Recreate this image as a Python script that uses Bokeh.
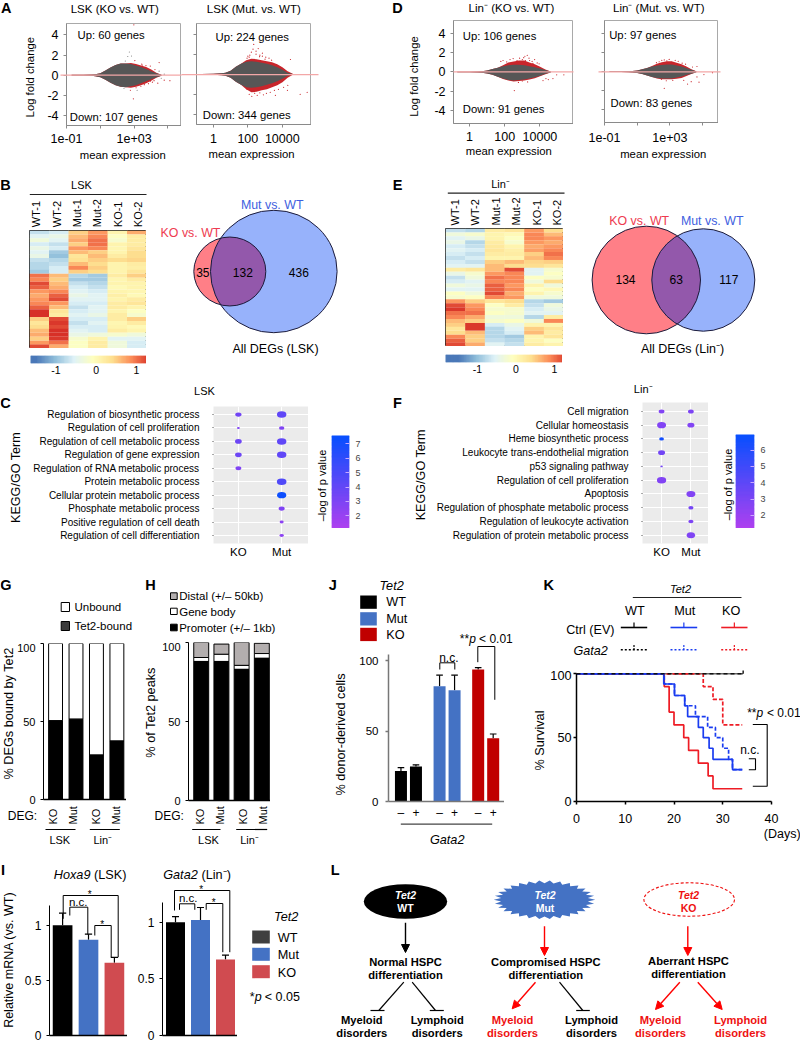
import numpy as np
from bokeh.plotting import figure
from bokeh.models import Range1d, FixedTicker, LinearColorMapper, Arrow, NormalHead, ColumnDataSource
from bokeh.core.properties import value
from bokeh.transform import transform
from bokeh.embed import file_html
from bokeh.resources import INLINE

FONT = "Liberation Sans"
MINUS_SUP = "\u207b"
# ---------- DATA ----------
MA_MEAN = [0.2, 1, 3, 5, 10, 20, 40, 80, 160, 320, 640, 1280, 2560, 5120, 10240, 20480, 40960]
A1_UP = [.03, .04, .07, .1, .2, .45, .75, 1.0, 1.15, 1.15, 1.1, .95, .8, .6, .4, .2, .05]
A1_DN = [-.03, -.04, -.07, -.1, -.2, -.45, -.75, -1.0, -1.15, -1.2, -1.1, -1.0, -.8, -.6, -.4, -.2, -.05]
A1_RU = [.03, .04, .07, .1, .2, .45, .75, 1.0, 1.15, 1.15, 1.2, 1.1, .95, .8, .55, .25, .05]
A1_RD = [-.03, -.04, -.07, -.1, -.2, -.45, -.75, -1.0, -1.15, -1.2, -1.25, -1.15, -1.0, -.8, -.55, -.25, -.05]
A1_RX = [960, 1100, 2800, 5000, 9000, 17000, 30000, 12000, 25000, 60000, 130000, 600, 1300, 2500, 4000, 7000, 9000, 15000, 3000, 900]
A1_RY = [5.0, 1.45, 1.1, .95, .9, .55, 1.25, -.7, -.8, -.5, -.55, -1.5, -1.25, -1.1, -.95, -.85, -.6, -.55, 1.0, -2.35]
A1_GX = [520, 420, 700, 30000, 40000, 300, 250, 1500, 60000]
A1_GY = [2.3, 1.85, 1.9, .4, -.3, 1.4, -1.3, -1.5, .1]

A2_UP = [.03, .05, .1, .15, .35, .75, 1.05, 1.25, 1.3, 1.25, 1.15, 1.05, .9, .7, .45, .15, .03]
A2_DN = [-.03, -.05, -.1, -.15, -.35, -.75, -1.05, -1.3, -1.35, -1.3, -1.2, -1.05, -.9, -.7, -.45, -.15, -.03]
A2_RU = [.03, .05, .1, .15, .35, .75, 1.05, 1.4, 1.55, 1.5, 1.4, 1.3, 1.2, 1.0, .7, .3, .05]
A2_RD = [-.03, -.05, -.1, -.15, -.35, -.75, -1.05, -1.5, -1.8, -1.75, -1.6, -1.5, -1.3, -1.1, -.8, -.35, -.05]
A2_RX = [220, 160, 130, 100, 90, 300, 400, 500, 700, 1100, 1700, 90, 120, 170, 250, 350, 500, 800, 1200, 2000, 3500, 6000, 12000, 20000, 120, 200, 300, 480, 700, 1000, 2400, 30000, 110000, 280000, 21000, 4000]
A2_RY = [2.97, 2.2, 1.9, 1.8, 1.6, 2.3, 2.55, 1.9, 1.8, 1.7, 1.6, -1.5, -2.0, -2.2, -1.9, -2.1, -1.85, -2.05, -1.9, -1.8, -1.6, -1.5, -1.3, -1.6, 1.7, 2.5, 2.0, 1.75, 2.1, 1.5, 1.4, 1.47, -2.0, -1.8, -1.1, -2.1]
D1_UP = [.02, .03, .05, .08, .15, .3, .45, .6, .7, .75, .75, .7, .6, .5, .35, .2, .05]
D1_DN = [-.02, -.03, -.05, -.08, -.15, -.3, -.5, -.7, -.85, -.9, -.85, -.8, -.7, -.55, -.4, -.2, -.05]
D1_RU = [.02, .03, .05, .08, .15, .3, .45, .7, 1.0, 1.1, 1.2, 1.2, 1.0, .8, .55, .25, .05]
D1_RD = [-.02, -.03, -.05, -.08, -.15, -.3, -.5, -.75, -.9, -1.0, -.95, -.9, -.8, -.65, -.45, -.25, -.05]
D1_RX = [60, 80, 130, 200, 300, 500, 700, 1000, 1400, 1900, 2600, 3600, 5000, 7000, 1200, 1500, 2400, 4000, 9000, 15000, 22000, 55000, 90000, 230000, 600, 1000, 2000, 350, 30000]
D1_RY = [1.1, 1.2, 1.05, 1.3, 1.4, 1.2, 1.45, 1.3, 1.65, 1.75, 1.2, 1.1, 1.3, .95, 1.5, 1.2, 1.45, .9, .85, -.9, -.7, -.7, -.3, -.3, -1.1, -.95, -1.05, -1.95, -.8]
D2_UP = [.02, .03, .05, .07, .12, .25, .4, .55, .65, .7, .75, .75, .65, .55, .4, .2, .05]
D2_DN = [-.02, -.03, -.05, -.07, -.12, -.25, -.4, -.55, -.65, -.7, -.7, -.7, -.6, -.5, -.35, -.2, -.05]
D2_RU = [.02, .03, .05, .07, .12, .25, .4, .6, .85, 1.0, 1.1, 1.1, .95, .8, .55, .25, .05]
D2_RD = [-.02, -.03, -.05, -.07, -.12, -.25, -.4, -.55, -.7, -.78, -.8, -.8, -.75, -.65, -.45, -.25, -.05]
D2_RX = [150, 220, 320, 450, 650, 900, 1300, 2100, 3200, 5600, 9000, 24000, 45000, 120000, 400000, 60000, 45000, 20000, 450, 600, 300, 1500, 7000, 12000]
D2_RY = [.95, 1.05, 1.2, 1.25, 1.15, 1.3, 1.0, 1.2, 1.1, .9, .8, .5, .55, -.3, -.1, -1.1, -.55, -1.05, -1.75, -.95, -.8, -.9, -.9, -1.3]

HEAT_COLS = ["WT-1", "WT-2", "Mut-1", "Mut-2", "KO-1", "KO-2"]
HEAT_B = [
 [-.7,-.6,.5,.8,.1,.7],[-.5,-.4,.6,.9,-.1,.2],[-.3,-.5,.7,1.0,-.2,.2],[-.6,-.7,.5,1.0,.1,.2],
 [-.4,-.6,.8,.9,.05,.3],[-.5,-.9,.6,.5,.1,.4],[-.4,-1.0,.3,.6,.2,.4],[-.7,-.8,.35,.5,.4,.45],
 [-.8,-.7,.6,.4,.1,.2],[-.8,-.6,.9,.5,.1,.15],[-.9,-.6,.5,.4,.1,.3],
 [1.0,.6,-.8,-.9,.2,.5],[.9,.5,-.9,-.9,.05,.2],[1.2,.6,-.7,-.8,.1,.1],[1.1,.7,-.6,-.7,0,.1],
 [.8,.9,-.5,-.6,.1,.05],[.7,1.1,-.4,-.5,.15,0],[.8,1.2,-.5,-.5,.1,.2],[.9,.8,-.6,-.6,.2,.3],
 [1.1,.6,-.7,-.5,.2,.1],[1.4,.3,-.6,-.5,.1,-.1],[1.5,.2,-.5,-.4,.2,-.2],[.5,1.2,-.6,-.6,.2,.5],
 [.3,1.3,-.7,-.5,.05,.2],[.4,1.2,-.6,-.6,.1,0],[.6,1.4,-.5,-.6,.2,.1],[.7,1.5,-.4,-.3,-.2,-.3],
 [.5,1.3,-.2,.1,-.5,-.5],[.8,1.0,-.1,.2,-.3,-.6],[1.2,.7,-.1,.2,-.3,-.6]]
HEAT_E = [
 [-.7,-.8,.2,.3,.8,.4],[-.3,-.2,.1,.0,.9,.6],[-.5,-.4,.1,-.1,.9,.8],[-.4,-.8,.2,-.2,.8,.7],
 [-.6,-.7,.25,.1,.7,.8],[-.5,-.6,.3,.15,.75,.9],[-.6,-.7,.2,.2,.5,1.0],[-.7,-.6,.1,.1,.6,.9],
 [-.6,-.7,.5,.6,.45,.5],[-.5,-.5,.6,.4,.4,.3],
 [.2,.3,.6,1.2,-.5,-.2],[-.4,-.2,.8,.9,-.5,-.1],[-.7,-.3,1.0,.9,-.1,-.2],[-.6,-.5,.9,.9,-.3,.4],
 [-.3,-.4,1.1,.8,.1,-.3],[-.5,-.5,1.1,.9,-.1,0],[-.1,-.3,1.2,.7,.1,-.2],[-.2,-.1,.9,.8,-.3,-.3],
 [.8,.5,.3,.4,-.8,-.9],[1.2,.8,-.1,.2,-.7,-.3],[1.3,.9,-.2,-.2,-.6,-.4],[1.0,1.0,-.1,-.2,-.5,-.5],
 [.9,.7,-.3,-.3,-.8,.2],[.6,.5,-.2,-.1,-.3,.9],[.5,1.3,-.6,-.4,.1,.1],[.3,1.3,-.8,-.5,.5,.3],
 [.4,.6,-.8,-.6,.6,.2],[.9,.5,-.8,-.9,.1,.3],[1.1,.5,-.7,-.8,.1,-.1],[1.2,.7,-.5,-.7,.2,.1]]

VENN_B = {"ko": 35, "both": 132, "mut": 436}
VENN_E = {"ko": 134, "both": 63, "mut": 117}

C_TERMS = ["Regulation of biosynthetic process", "Regulation of cell proliferation", "Regulation of cell metabolic process",
           "Regulation of gene expression", "Regulation of RNA metabolic process", "Protein metabolic process",
           "Cellular protein metabolic process", "Phosphate metabolic process", "Positive regulation of cell death",
           "Regulation of cell differentiation"]
C_KO_ROW = [1, 2, 3, 4, 5]
C_KO_SIZE = [4.3, 2.0, 4.6, 4.6, 4.0]
C_KO_P = [3.5, 3.0, 3.7, 3.7, 3.0]
C_MUT_ROW = [1, 2, 3, 4, 6, 7, 8, 9, 10]
C_MUT_SIZE = [6.5, 3.7, 6.5, 6.5, 6.6, 6.3, 4.2, 2.8, 3.0]
C_MUT_P = [4.2, 3.0, 4.2, 4.2, 4.8, 7.3, 3.0, 2.5, 2.5]
F_TERMS = ["Cell migration", "Cellular homeostasis", "Heme biosynthetic process", "Leukocyte trans-endothelial migration",
           "p53 signaling pathway", "Regulation of cell proliferation", "Apoptosis", "Regulation of phosphate metabolic process",
           "Regulation of leukocyte activation", "Regulation of protein metabolic process"]
F_KO_ROW = [1, 2, 3, 4, 5, 6]
F_KO_SIZE = [4.0, 6.2, 3.3, 4.8, 1.7, 6.4]
F_KO_P = [2.8, 2.8, 6.6, 3.3, 3.2, 2.8]
F_MUT_ROW = [1, 2, 7, 8, 9, 10]
F_MUT_SIZE = [4.0, 4.8, 6.2, 3.6, 3.6, 5.8]
F_MUT_P = [3.0, 2.8, 2.8, 3.2, 3.0, 2.9]

DEG_LABELS = ["KO", "Mut", "KO", "Mut"]
G_BOUND = [50.5, 51.5, 28.5, 37.5]
G_TOTAL = [100, 100, 100, 100]
H_PROM = [88, 88, 83, 90]
H_BODY = [90.5, 92.5, 85.5, 93]
H_DIST = [100, 99, 100, 99.5]

J_VALUES = [21.6, 24.9, 81.8, 79, 93.6, 44.8]
J_ERR = [24, 26, 89.6, 89.6, 95, 47.9]
J_COLORS = ["black", "black", "#4472c4", "#4472c4", "#c00000", "#c00000"]
J_SIGNS = ["\u2013", "+", "\u2013", "+", "\u2013", "+"]

K_WT_D = [0, 34.15]; K_WT_S = [100, 100]
K_MUT_D = [0, 17.9, 20.1, 22.2, 22.8, 25, 26, 27.2, 28, 32, 34]
K_MUT_S = [100, 92, 83, 75, 66.5, 58, 50, 41.7, 33, 25, 25]
K_MUTG_D = [0, 18, 20.1, 22.2, 24.4, 26.9, 28.5, 30, 31.2, 32, 34]
K_MUTG_S = [100, 92, 83, 75, 66.5, 58, 50, 41.7, 33, 25, 25]
K_KO_D = [0, 18, 19, 20, 22, 23, 25, 27, 28, 34]
K_KO_S = [100, 90, 70, 60, 50, 40, 30, 20, 10, 10]
K_KOG_D = [0, 26, 28, 30, 34]
K_KOG_S = [100, 90, 80, 60, 60]

I_HOXA9 = [1.0, .87, .66]; I_HOXA9_ERR = [1.11, .92, .71]
I_GATA2 = [1.0, 1.02, .67]; I_GATA2_ERR = [1.05, 1.13, .71]
I_COLORS = ["black", "#4472c4", "#d04b50"]

# ---------- HELPERS ----------
figs = []
def panel(x0, y0, x1, y1, xr, yr, L=0, R=0, T=0, B=0, **kw):
    x0, y0, x1, y1 = [int(round(v)) for v in (x0, y0, x1, y1)]
    p = figure(frame_width=x1 - x0, frame_height=y1 - y0, width=x1 - x0 + L + R, height=y1 - y0 + T + B,
               x_range=Range1d(*xr), y_range=Range1d(*yr),
               min_border_left=L, min_border_right=R, min_border_top=T, min_border_bottom=B,
               toolbar_location=None, output_backend="svg", background_fill_color=None, border_fill_color=None,
               outline_line_color=None,
               styles={"position": "absolute", "left": f"{x0 - L}px", "top": f"{y0 - T}px"}, **kw)
    p.grid.visible = False
    figs.append(p)
    return p

def style_axis(ax, ticks, size="11px", color="black", width=1, standoff=4, tick_out=3, labels=None, text="black"):
    ax.ticker = FixedTicker(ticks=list(ticks))
    ax.major_label_text_font = FONT
    ax.major_label_text_font_size = size
    ax.major_label_text_color = text
    ax.axis_line_color = color
    ax.axis_line_width = width
    ax.major_tick_line_color = color
    ax.major_tick_line_width = width
    ax.major_tick_out = tick_out
    ax.major_tick_in = 0
    ax.minor_tick_line_color = None
    ax.major_label_standoff = standoff
    if labels is not None:
        ax.major_label_overrides = labels

def ma(box, xlog, yr, xlabels, yshow, standoff, up, dn, ru, rd, rx, ry, gx=None, gy=None):
    p = panel(box[0], box[1], box[2], box[3], (10 ** xlog[0], 10 ** xlog[1]), yr, L=50, B=30, x_axis_type="log")
    p.outline_line_color = "#a9a9a9"
    style_axis(p.xaxis[0], list(xlabels.keys()), size="12.5px", color="#8a8a8a", standoff=standoff, labels=xlabels)
    ylab = {t: (str(t) if yshow else "") for t in (-4, -2, 0, 2, 4)}
    style_axis(p.yaxis[0], (-4, -2, 0, 2, 4), size="12.5px", color="#8a8a8a", standoff=5, labels=ylab)
    xs = MA_MEAN + MA_MEAN[::-1]
    p.patch(xs, list(ru) + list(rd)[::-1], fill_color="#c9252b", line_color=None)
    p.patch(xs, list(up) + list(dn)[::-1], fill_color="#565656", line_color=None)
    p.scatter(rx, ry, size=1.2, color="#c9252b", line_width=0)
    if gx:
        p.scatter(gx, gy, size=1.1, color="#777777", line_width=0)
    return p

HEAT_KEYS = ["#4a78b8", "#91bfdb", "#e0f3f8", "#ffffbf", "#fee090", "#fc8d59", "#d73027"]
def heat_palette(n=128):
    rgb = np.array([[int(c[i:i + 2], 16) for i in (1, 3, 5)] for c in HEAT_KEYS], float)
    t = np.linspace(0, len(HEAT_KEYS) - 1, n)
    out = [np.interp(t, np.arange(len(HEAT_KEYS)), rgb[:, k]) for k in range(3)]
    return ["#%02x%02x%02x" % (int(r), int(g), int(b)) for r, g, b in zip(*out)]
HEAT_PAL = heat_palette()
heat_mapper = LinearColorMapper(palette=HEAT_PAL, low=-1.5, high=1.35)
BUB_PAL = ["#%02x%02x%02x" % (int(r), int(g), int(b)) for r, g, b in zip(np.linspace(176, 8, 64), np.linspace(64, 80, 64), np.linspace(240, 255, 64))]

def heat(box, mat):
    p = panel(*box, (0, 6), (len(mat), 0), x_axis_location=None, y_axis_location=None)
    m = np.array(mat)
    rows, cols = np.indices(m.shape)
    src = ColumnDataSource(dict(x=cols.ravel() + .5, y=rows.ravel() + .5, v=m.ravel()))
    p.rect("x", "y", width=1, height=1, dilate=True, fill_color=transform("v", heat_mapper), line_color=None, source=src)
    p.outline_line_color = "#222222"
    p.outline_line_width = 1
    return p

def heat_bar(box, xr):
    p = panel(*box, xr, (0, 1), B=18, y_axis_location=None)
    g = np.linspace(xr[0], xr[1], 100)
    p.rect("x", .5, width=(xr[1] - xr[0]) / 99, height=1, dilate=True, fill_color=transform("x", heat_mapper), line_color=None,
           source=ColumnDataSource(dict(x=g)))
    style_axis(p.xaxis[0], (-1, 0, 1), size="10.5px", standoff=2, tick_out=0, color=None, labels={-1: "-1", 0: "0", 1: "1"})
    return p

def bubble(box, xr, yr, terms, ko, mut, low, high, colbox, colr, colticks):
    p = panel(*box, xr, yr, L=212, B=16)
    p.background_fill_color = "#ebebeb"
    style_axis(p.yaxis[0], range(1, 11), size="10px", standoff=13, tick_out=1, color="#555555", labels={i + 1: t for i, t in enumerate(terms)})
    p.yaxis[0].axis_line_color = None
    style_axis(p.xaxis[0], (1, 2), size="11.5px", standoff=2, tick_out=0, color=None, labels={1: "KO", 2: "Mut"})
    p.ygrid.visible = True; p.xgrid.visible = True
    p.ygrid.grid_line_color = "white"; p.xgrid.grid_line_color = "white"
    p.ygrid.grid_line_width = 1; p.xgrid.grid_line_width = 1
    mapper = LinearColorMapper(palette=BUB_PAL, low=low, high=high)
    for xv, (rows, size, pv) in zip((1, 2), (ko, mut)):
        s = np.array(size)
        src = ColumnDataSource(dict(x=[xv] * len(rows), y=rows, w=s * 1.45, h=s, p=pv))
        p.ellipse("x", "y", width="w", height="h", width_units="screen", height_units="screen",
                  fill_color=transform("p", mapper), line_color=None, source=src)
    c = panel(*colbox, (0, 1), colr, R=25, x_axis_location=None, y_axis_location="right")
    g = np.linspace(colr[0], colr[1], 80)
    src = ColumnDataSource(dict(y=g))
    c.rect(.5, "y", width=1, height=(colr[1] - colr[0]) / 79, dilate=True, fill_color=transform("y", mapper), line_color=None, source=src)
    style_axis(c.yaxis[0], colticks, size="9px", standoff=6, tick_out=0, color=None, text="#444444")
    c.yaxis[0].major_tick_in = 4
    c.yaxis[0].major_tick_line_color = "#c9a8ff"
    return p

# ---------- PANELS A, D ----------
ma((66, 23, 181, 125), (-1, 5.8), (-5, 5.13), {0.1: "1e-01", 10: "", 1000: "1e+03", 100000: ""}, True, 5,
   A1_UP, A1_DN, A1_RU, A1_RD, A1_RX, A1_RY, A1_GX, A1_GY)
ma((196, 23, 311, 124), (-.985, 5.7), (-5, 5.05), {1: "1", 100: "100", 10000: "10000"}, False, 6,
   A2_UP, A2_DN, A2_RU, A2_RD, A2_RX, A2_RY)
ma((453, 20, 573, 123), (-.914, 5.91), (-5.41, 5.4), {1: "1", 100: "100", 10000: "10000"}, True, 5,
   D1_UP, D1_DN, D1_RU, D1_RD, D1_RX, D1_RY)
ma((604, 20, 718, 122), (-1, 5.97), (-5.35, 5.4), {0.1: "1e-01", 10: "", 1000: "1e+03", 100000: ""}, False, 7,
   D2_UP, D2_DN, D2_RU, D2_RD, D2_RX, D2_RY)

# ---------- PANELS B, E ----------
heat((29, 230, 146, 348), HEAT_B)
heat_bar((30, 355, 146, 363), (-1.63, 1.25))
heat((445, 228, 563, 346), HEAT_E)
heat_bar((445, 354, 562, 362), (-1.0 - 31.5 / 38, 1.0 + 8 / 38))

# ---------- PANELS C, F ----------
bubble((213, 406, 308, 543), (.425, 2.62), (10.6, .4), C_TERMS,
       (C_KO_ROW, C_KO_SIZE, C_KO_P), (C_MUT_ROW, C_MUT_SIZE, C_MUT_P), 1.1, 7.6,
       (331, 435, 349, 528), (1.125, 7.58), (2, 3, 4, 5, 6, 7))
bubble((642, 402, 708, 543), (.35, 2.6), (10.6, .35), F_TERMS,
       (F_KO_ROW, F_KO_SIZE, F_KO_P), (F_MUT_ROW, F_MUT_SIZE, F_MUT_P), 1.2, 7.0,
       (735, 434, 754, 528), (1.2, 6.96), (2, 3, 4, 5, 6))

# ---------- PANEL G ----------
idx = [0, 1, 2, 3]
g = panel(43, 643, 126, 799, (-.59, 3.47), (0, 100), L=40, B=10)
style_axis(g.yaxis[0], (0, 50, 100), standoff=5)
style_axis(g.xaxis[0], [], width=1.5)
g.vbar(idx, width=.68, bottom=G_BOUND, top=G_TOTAL, fill_color="white", line_color="black")
g.vbar(idx, width=.68, bottom=0, top=G_BOUND, fill_color="black", line_color="black")

# ---------- PANEL H ----------
h = panel(188, 642, 270, 800, (-.63, 3.43), (0, 100), L=40, B=10)
style_axis(h.yaxis[0], (0, 50, 100), standoff=5)
style_axis(h.xaxis[0], [], width=1.5)
h.vbar(idx, width=.74, bottom=H_BODY, top=H_DIST, fill_color="#b3aeae", line_color="black")
h.vbar(idx, width=.74, bottom=H_PROM, top=H_BODY, fill_color="white", line_color="black")
h.vbar(idx, width=.74, bottom=0, top=H_PROM, fill_color="black", line_color="black")

# ---------- PANEL J ----------
j_x = [grp * 2.573 + i for grp in range(3) for i in range(2)]
j = panel(388, 653, 504, 801, (-.83, 6.9), (0, 105), L=40, B=20)
style_axis(j.yaxis[0], (0, 50, 100), size="11.5px", color="#777777", width=1.5, standoff=7)
style_axis(j.xaxis[0], j_x, size="12px", color="#777777", width=1.5, tick_out=0, standoff=4, labels=dict(zip(j_x, J_SIGNS)), text="black")
j.yaxis[0].bounds = (0, 104)
j.segment(j_x, J_VALUES, j_x, J_ERR, line_color="black", line_width=1.2)
j.segment(np.array(j_x) - .22, J_ERR, np.array(j_x) + .22, J_ERR, line_color="black", line_width=1.2)
j.vbar(j_x, width=.8, bottom=0, top=J_VALUES, fill_color=J_COLORS, line_color=None)

# ---------- PANEL K ----------
k = panel(576, 670, 771, 801, (0, 40), (0, (801 - 670) / 1.277), L=30, B=25, R=20)
style_axis(k.yaxis[0], (0, 50, 100), size="12.7px", width=1.5, standoff=2)
style_axis(k.xaxis[0], (0, 10, 20, 30, 40), size="12.5px", width=1.5, standoff=9)
k.yaxis[0].bounds = (0, 100)
k.line(K_WT_D, K_WT_S, line_color="#666666", line_width=1.6)
k.step(K_KOG_D, K_KOG_S, mode="after", line_color="#ee1c25", line_width=1.7, line_dash="4 2")
k.step(K_KO_D, K_KO_S, mode="after", line_color="#ee1c25", line_width=1.7)
k.step(K_MUTG_D, K_MUTG_S, mode="after", line_color="#1a3cf0", line_width=1.7, line_dash="4 2")
k.step(K_MUT_D, K_MUT_S, mode="after", line_color="#1a3cf0", line_width=1.7)
k.line(K_WT_D, K_WT_S, line_color="#111111", line_width=1.6, line_dash="4 3")

# ---------- PANEL I ----------
for box_, yr, vals, errs, sp in (((49, 905, 127, 1035), (0, 1.18), I_HOXA9, I_HOXA9_ERR, 25.7),
                                ((162, 902, 237, 1035), (0, 1.174), I_GATA2, I_GATA2_ERR, 25)):
    xr = (-(13.0 / sp), 2 + (13.0 / sp)) if sp > 25.5 else (-(13.0 / sp), 2 + (12.0 / sp))
    q = panel(*box_, xr, yr, L=35, B=7)
    style_axis(q.yaxis[0], (0, .5, 1), size="12px", standoff=5, labels={0: "0", .5: "0.5", 1: "1"})
    style_axis(q.xaxis[0], [], width=1.5)
    q.segment(idx[:3], vals, idx[:3], errs, line_color="black", line_width=1.2)
    q.segment(np.array(idx[:3]) - .14, errs, np.array(idx[:3]) + .14, errs, line_color="black", line_width=1.2)
    q.vbar(idx[:3], width=.76, bottom=0, top=vals, fill_color=I_COLORS, line_color=None)

# ---------- DECORATION / TEXT LAYER ----------
d = panel(0, 0, 800, 1042, (0, 800), (1042, 0), x_axis_location=None, y_axis_location=None)

def T(x, y, s, size=11, color="black", align="center", angle=0, style="normal", base="middle"):
    d.text([x], [y], text=[s], text_font=value(FONT), text_font_size=f"{size}px", text_color=color,
           text_align=align, text_baseline=base, angle=angle, text_font_style=style)
def L(xs, ys, color="black", w=1, dash="solid"):
    d.line(xs, ys, line_color=color, line_width=w, line_dash=dash)
def bracket(x0, x1, top, y0, y1, color="black", w=1):
    L([x0, x0, x1, x1], [y0, top, top, y1], color, w)
def box(x0, y0, x1, y1, fill, line=None):
    d.quad(left=[x0], right=[x1], top=[y0], bottom=[y1], fill_color=fill, line_color=line)
def arrow(x0, y0, x1, y1, c="red", size=8, w=1.4):
    d.add_layout(Arrow(x_start=x0, y_start=y0, x_end=x1, y_end=y1, line_color=c, line_width=w,
                       end=NormalHead(size=size, fill_color=c, line_color=c)))
def tbar(x0, y0, x1, y1, bx0, bx1):
    L([x0, x1], [y0, y1], "black", 1.2)
    L([bx0, bx1], [y1, y1], "black", 1.2)

for s, x, y in (("A", 5.7, 7.5), ("D", 397, 7.5), ("B", 5, 184), ("E", 397, 184), ("C", 5, 402.7), ("F", 397, 402.7),
                ("G", 5.3, 584.3), ("H", 150, 584.3), ("J", 332.3, 584.3), ("K", 548.3, 584.3), ("I", 2.5, 869.3), ("L", 334.7, 869.3)):
    T(x, y, s, 14.5, style="bold")

PINK = "#f3a7a7"
L([60, 181], [74.7, 74.7], PINK, 1.3); L([181, 318], [74.2, 74.2], PINK, 1.3)
L([453, 573], [71.3, 71.3], PINK, 1.3); L([598, 720], [71.3, 71.3], PINK, 1.3)

T(114.3, 8, "LSK (KO vs. WT)", 11.5); T(253.3, 8, "LSK (Mut. vs. WT)", 11.5)
T(511, 7.5, f"Lin{MINUS_SUP} (KO vs. WT)", 11.5); T(658.3, 7.5, f"Lin{MINUS_SUP} (Mut. vs. WT)", 11.5)
T(29.3, 76.7, "Log fold change", 11.3, angle=np.pi / 2); T(413.3, 76, "Log fold change", 11.3, angle=np.pi / 2)
for x, y in ((122.3, 154.3), (251, 153.7), (508.3, 150.7), (662.7, 153)):
    T(x, y, "mean expression", 11.3)
for x, y, s in ((77, 34.3, "Up: 60 genes"), (69.3, 116.7, "Down: 107 genes"), (215, 36.7, "Up: 224 genes"), (202.3, 114.7, "Down: 344 genes"),
                (462.3, 35, "Up: 106 genes"), (462.3, 108, "Down: 91 genes"), (608.7, 34.7, "Up: 97 genes"), (610, 102.3, "Down: 83 genes")):
    T(x, y, s, 11.3, align="left")

# heatmap headers
T(81, 184, "LSK", 11); L([29.3, 146], [194, 194], "#222222", 1.2)
T(500, 183.3, f"Lin{MINUS_SUP}", 11); L([447.3, 564], [192.7, 192.7], "#222222", 1.2)
for x, c in zip((35.7, 56, 76.7, 96.7, 117.3, 137.3), HEAT_COLS):
    T(x, 226.7, c, 11, align="left", angle=np.pi / 2)
for x, c in zip((454.3, 474.3, 495, 515, 536, 556), HEAT_COLS):
    T(x, 225, c, 11, align="left", angle=np.pi / 2)

# venn
def venn(cx1, r1, cx2, r2, cy, ry1=None, ry2=None):
    ry1 = ry1 or r1; ry2 = ry2 or r2
    d.ellipse([cx1], [cy], width=2 * r1, height=2 * ry1, fill_color="#ff7f87", line_color=None)
    d.ellipse([cx2], [cy], width=2 * r2, height=2 * ry2, fill_color="#97b2fb", line_color=None)
    t = np.linspace(-np.pi, np.pi, 721)
    ex1, ey1 = cx1 + r1 * np.cos(t), cy + ry1 * np.sin(t)
    m1 = ((ex1 - cx2) / r2) ** 2 + ((ey1 - cy) / ry2) ** 2 <= 1
    ex2, ey2 = cx2 + r2 * np.cos(t), cy + ry2 * np.sin(t)
    m2 = ((ex2 - cx1) / r1) ** 2 + ((ey2 - cy) / ry1) ** 2 <= 1
    a1 = np.arctan2(ey1[m1] - cy, ex1[m1] - cx1); o1 = np.argsort(a1)
    right_x, right_y = ex1[m1][o1], ey1[m1][o1]
    a2 = np.arctan2(ey2[m2] - cy, ex2[m2] - cx2); a2 = np.where(a2 < 0, a2 + 2 * np.pi, a2); o2 = np.argsort(a2)
    left_x, left_y = ex2[m2][o2], ey2[m2][o2]
    d.patch(np.r_[right_x, left_x], np.r_[right_y, left_y], fill_color="#9358ab", line_color=None)
    d.ellipse([cx1], [cy], width=2 * r1, height=2 * ry1, fill_color=None, line_color="#1c1c3c", line_width=1)
    d.ellipse([cx2], [cy], width=2 * r2, height=2 * ry2, fill_color=None, line_color="#1c1c3c", line_width=1)
venn(229.3, 36, 273.3, 63.3, 271, 34.5, 61.2)
venn(645.8, 54.2, 702.8, 51.5, 279.5, 53.8, 51.2)
T(190, 232.3, "KO vs. WT", 12.4, "#ee3b50"); T(271.7, 204.3, "Mut vs. WT", 12.4, "#3f5fe0")
T(638.7, 220.7, "KO vs. WT", 12.4, "#ee3b50"); T(711.7, 220.7, "Mut vs. WT", 12.4, "#3f5fe0")
T(202.3, 271.7, str(VENN_B["ko"]), 12); T(242.3, 271.7, str(VENN_B["both"]), 12); T(298.3, 271.7, str(VENN_B["mut"]), 12)
T(625, 279.3, str(VENN_E["ko"]), 12); T(675.7, 279.3, str(VENN_E["both"]), 12); T(728.3, 279.3, str(VENN_E["mut"]), 12)
T(275, 348.7, "All DEGs (LSK)", 12.5); T(682, 348.7, f"All DEGs (Lin{MINUS_SUP})", 12.5)

# C, F
T(204, 390.7, "LSK", 11); T(642.7, 388.3, f"Lin{MINUS_SUP}", 11)
T(15, 477, "KEGG/GO Term", 12.6, angle=np.pi / 2); T(420, 474.3, "KEGG/GO Term", 12.6, angle=np.pi / 2)
T(321.7, 485, "\u2013log of p value", 11, angle=np.pi / 2); T(727.3, 484, "\u2013log of p value", 11, angle=np.pi / 2)

# G, H legends and labels
box(60.7, 602, 69, 611, "white", "black"); box(60.7, 621, 69, 630, "#3a3a3a", "black")
T(74, 606.3, "Unbound", 11.5, align="left"); T(74, 625, "Tet2-bound", 11.5, align="left")
box(170, 592.3, 176.7, 599, "#b3aeae", "black"); box(170, 607.7, 176.7, 614, "white", "black"); box(170, 623.7, 176.7, 630.3, "black", "black")
T(178.7, 595.7, "Distal (+/\u2013 50kb)", 11.5, align="left"); T(178.7, 611, "Gene body", 11.5, align="left"); T(178.7, 627.3, "Promoter (+/\u2013 1kb)", 11.5, align="left")
T(8.5, 713, "% DEGs bound by Tet2", 12.7, angle=np.pi / 2); T(150.7, 712, "% of Tet2 peaks", 12.7, angle=np.pi / 2)
for xs_ in ((52.3, 72.3, 95, 115), (199, 219, 242.3, 262.3)):
    for x, s in zip(xs_, DEG_LABELS):
        T(x, 824, s, 11, align="left", angle=np.pi / 2)
T(7.3, 815.7, "DEG:", 12, align="left"); T(154, 815.7, "DEG:", 12, align="left")
L([45, 75], [829, 829], "black", 1.2); L([89.3, 119.3], [829, 829], "black", 1.2)
L([191.7, 220], [829, 829], "black", 1.2); L([235.7, 266.7], [829, 829], "black", 1.2)
T(59.3, 839.3, "LSK", 11); T(102.3, 839.3, f"Lin{MINUS_SUP}", 11); T(208, 839.3, "LSK", 11); T(249, 839.3, f"Lin{MINUS_SUP}", 11)

# J
T(379, 585, "Tet2", 12.7, align="left", style="italic")
for y0, c, s in ((595, "black", "WT"), (611.7, "#4472c4", "Mut"), (627.3, "#c00000", "KO")):
    box(359.7, y0, 376.3, y0 + 13.3, c)
    T(385.7, y0 + 6.7, s, 12.7, align="left")
T(340.7, 734, "% donor-derived cells", 12.7, angle=np.pi / 2)
bracket(439.3, 454.3, 662.3, 669, 669); T(448.3, 657, "n.c.", 12)
bracket(477.3, 494.3, 646, 661.7, 699.3)
T(459.3, 638.3, "**", 12, align="left"); T(468.7, 638.3, "p", 12, align="left", style="italic"); T(478.6, 638.3, "< 0.01", 12, align="left")
L([400.3, 491.7], [823.7, 823.7], "#444444", 1.2); T(446.7, 839.3, "Gata2", 12.7, style="italic")

# K
T(680, 588.3, "Tet2", 11, style="italic"); L([632.3, 741], [597, 597], "#222222", 1)
T(634.3, 610, "WT", 12.7); T(684.3, 610, "Mut", 12.7); T(730.7, 610, "KO", 12.7)
T(565.7, 629, "Ctrl (EV)", 12.6, align="left"); T(607.3, 650, "Gata2", 12.6, align="right", style="italic")
for x0, x1, c in ((620.3, 646.7, "black"), (670, 696.7, "#1a3cf0"), (720.7, 747, "#ee1c25")):
    L([x0, x1], [627, 627], c, 1.6); L([(x0 + x1) / 2] * 2, [622, 627], c, 1.2)
    L([x0, x1], [649.3, 649.3], c, 1.6, "2 2"); L([(x0 + x1) / 2] * 2, [644.5, 649], c, 1.2, "2 1")
L([576 + 34.15 * 4.88] * 2, [670, 673.3], "black", 1.3)
T(539, 740, "% Survival", 12.7, angle=np.pi / 2)
T(781.7, 833.3, "(Days)", 12.5)
L([752.3, 766.7, 766.7, 752.3], [724, 724, 785.7, 785.7], "black", 1.1)
L([748.3, 755, 755, 748.3], [758.3, 758.3, 769.3, 769.3], "black", 1.1)
T(749.3, 749.3, "n.c.", 12)
T(746.7, 712, "**", 12, align="left"); T(756, 712, "p", 12, align="left", style="italic"); T(766.5, 712, "< 0.01", 12, align="left")

# I
T(8.3, 959.3, "Relative mRNA (vs. WT)", 12.5, angle=np.pi / 2)
T(53.3, 874.7, "Hoxa9", 12.7, align="left", style="italic"); T(93.5, 874.7, "(LSK)", 12.7, align="left")
T(162.7, 874.7, "Gata2", 12.7, align="left", style="italic"); T(201, 874.7, f"(Lin{MINUS_SUP})", 12.7, align="left")
bracket(62.7, 117.7, 895, 918.3, 956.7); bracket(69.3, 87.3, 906.7, 915, 934); bracket(94.3, 110.7, 925, 935, 956.7)
T(89.3, 894, "*", 10); T(101.7, 924, "*", 10); T(77.7, 901.3, "n.c.", 11.5)
bracket(174, 229.3, 890, 910, 951.7); bracket(179, 194.3, 903.3, 909.3, 909.3); bracket(205.7, 222.3, 903, 909.3, 951.7)
T(200.7, 889, "*", 10); T(213.3, 901.5, "*", 10); T(187.7, 897.3, "n.c.", 11.5)
T(285.7, 916.7, "Tet2", 12.7, style="italic")
for y0, c, s in ((930, "#3f3f3f", "WT"), (947.3, "#4472c4", "Mut"), (964.7, "#d04b50", "KO")):
    box(251.7, y0, 269.3, y0 + 13, c)
    T(277.3, y0 + 7.3, s, 12.7, align="left")
T(249.3, 996, "*", 12.5, align="left"); T(254.3, 996, "p", 12.5, align="left", style="italic"); T(264.3, 996, "< 0.05", 12.5, align="left")

# L
d.ellipse([405], [901], width=83.4, height=34.6, fill_color="black", line_color=None)
t = np.linspace(0, 2 * np.pi, 61)[:-1]
rad = np.where(np.arange(60) % 2 == 0, 1.0, .86)
d.patch(544 + 50.7 * rad * np.cos(t), 899.3 + 19.3 * rad * np.sin(t), fill_color="#4472c4", line_color=None)
d.ellipse([688.7], [899], width=90.6, height=33.4, fill_color=None, line_color="#ee1111", line_width=1.1, line_dash="3 2")
T(405, 894.3, "Tet2", 10.5, "white", style="bold italic"); T(405, 907.7, "WT", 10.5, "white", style="bold")
T(544.5, 894.3, "Tet2", 10.5, "white", style="bold italic"); T(544.5, 907.7, "Mut", 10.5, "white", style="bold")
T(688, 894.3, "Tet2", 10.5, "#ee1111", style="bold italic"); T(688, 907.7, "KO", 10.5, "#ee1111", style="bold")
arrow(405, 922.3, 405, 952, "black"); arrow(544, 925.7, 544, 955); arrow(687.3, 925.7, 687.3, 955)
for cx, s1, y in ((405, "Normal HSPC", 961), (545.3, "Compromised HSPC", 961), (688, "Aberrant HSPC", 960)):
    T(cx, y, s1, 11.2, style="bold"); T(cx, y + 13.3, "differentiation", 11.2, style="bold")
tbar(403.3, 981.7, 378.3, 1010, 370, 384); tbar(411.7, 981.7, 435, 1010, 429.3, 443.3); tbar(559, 981.7, 582.3, 1010, 575.7, 589.3)
arrow(535, 981.7, 511.7, 1008.3); arrow(679.3, 981.7, 655, 1009); arrow(697.3, 981.7, 721.7, 1009)
for cx, s, c in ((361.3, "Myeloid", "black"), (436.7, "Lymphoid", "black"), (512, "Myeloid", "#ee1111"),
                 (591, "Lymphoid", "black"), (660, "Myeloid", "#ee1111"), (740, "Lymphoid", "#ee1111")):
    T(cx, 1019, s, 11.2, c, style="bold"); T(cx, 1032.3, "disorders", 11.2, c, style="bold")

open("out.html", "w").write(file_html(figs, INLINE))
